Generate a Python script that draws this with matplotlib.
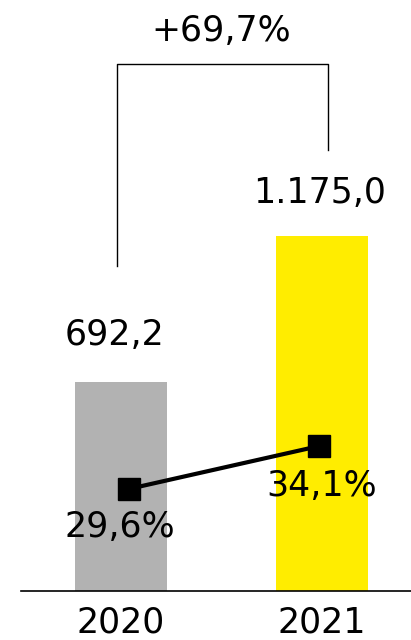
import matplotlib.pyplot as plt

years = ["2020", "2021"]
revenue = [692.2, 1175.0]
revenue_labels = ["692,2", "1.175,0"]
margin = [29.6, 34.1]
margin_labels = ["29,6%", "34,1%"]
growth_label = "+69,7%"
bar_colors = ["#b2b2b2", "#ffed00"]

plt.rcParams['font.family'] = ['DejaVu Sans']

fig = plt.figure(figsize=(4.11, 6.40), dpi=100)
ax = fig.add_axes([0, 0, 1, 1])
x = [0, 1]
ax.bar(x, revenue, width=0.458, color=bar_colors, zorder=1)
ax.set_xlim(-0.602, 1.443)
ax.set_ylim(-162, 1956)
ax.axhline(0, xmin=0.051, xmax=1, color='black', lw=1.2)
ax.axis('off')

# value labels above bars
ax.text(x[0] - 0.03, revenue[0] + 155, revenue_labels[0], ha='center', va='center', fontsize=25)
ax.text(x[1] - 0.01, revenue[1] + 142, revenue_labels[1], ha='center', va='center', fontsize=25)

# year labels
for xi, yr in zip(x, years):
    ax.text(xi, -105, yr, ha='center', va='center', fontsize=25)

# growth bracket
ax.plot([x[0] - 0.02, x[0] - 0.02, x[1] + 0.03, x[1] + 0.03],
        [revenue[0] + 385, 1743, 1743, revenue[1] + 285], color='black', lw=1)
ax.text(0.5, 1855, growth_label, ha='center', va='center', fontsize=25)

# margin line on secondary scale
ax2 = ax.twinx()
ax2.set_position([0, 0, 1, 1])
ax2.set_ylim(13.8, 80.77)
ax2.axis('off')
mx = [x[0] + 0.038, x[1] - 0.013]
ax2.plot(mx, margin, color='black', lw=3, marker='s', markersize=16, zorder=3)
ax2.text(x[0] - 0.005, margin[0] - 4.0, margin_labels[0], ha='center', va='center', fontsize=25)
ax2.text(x[1], margin[1] - 4.2, margin_labels[1], ha='center', va='center', fontsize=25)

fig.savefig('out.png', dpi=100)
